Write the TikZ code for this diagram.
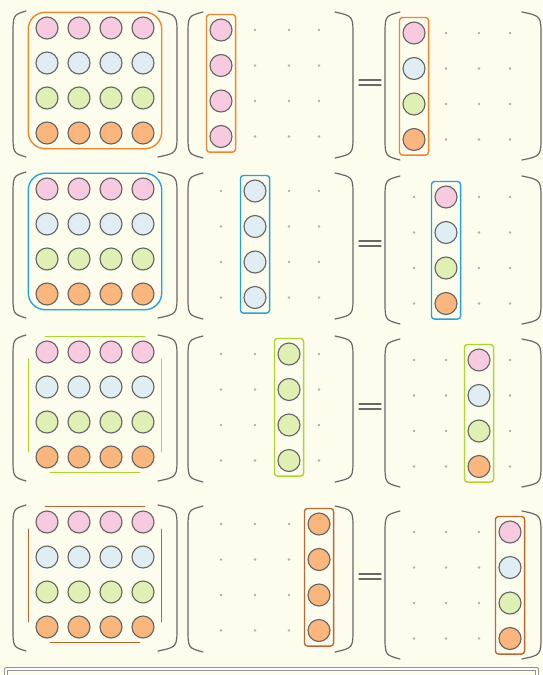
\documentclass[tikz,border=0pt]{standalone}
\usetikzlibrary{fit}
\definecolor{paper}{RGB}{253,253,238}
\definecolor{rim}{RGB}{100,100,100}
\definecolor{pinkfill}{RGB}{248,202,224}
\definecolor{bluefill}{RGB}{224,238,244}
\definecolor{greenfill}{RGB}{224,240,180}
\definecolor{orangefill}{RGB}{250,182,124}
\definecolor{frameorange}{RGB}{244,130,46}
\definecolor{frameblue}{RGB}{34,162,226}
\definecolor{framegreen}{RGB}{172,216,44}
\definecolor{framebrown}{RGB}{192,102,50}
\definecolor{dotgray}{RGB}{184,168,182}
\definecolor{parengray}{RGB}{104,104,104}
% left / right bracket: outer x, tip x, top y, bottom y
\newcommand{\lbr}[4]{\draw[paren] (#2,#3) .. controls (#1,#3+4) .. (#1,#3+24) -- (#1,#4-24) .. controls (#1,#4-4) .. (#2,#4);}
\newcommand{\rbr}[4]{\draw[paren] (#2,#3) .. controls (#1,#3+4) .. (#1,#3+24) -- (#1,#4-24) .. controls (#1,#4-4) .. (#2,#4);}
\begin{document}
\begin{tikzpicture}[x=1pt, y=-1pt, line join=round, line cap=round,
  ball/.style={circle, draw=rim, line width=1.1pt, minimum size=22pt, inner sep=0pt},
  pt/.style={circle, fill=dotgray, minimum size=2.8pt, inner sep=0pt},
  paren/.style={draw=parengray, line width=1.2pt},
  frame/.style={line width=1.4pt},
  colbox/.style={frame, rounded corners=3pt, inner xsep=3pt, inner ysep=4pt}]
  \fill[paper] (0,0) rectangle (543,675);
  \useasboundingbox (0,0) rectangle (543,675);
  % one row: first ball of A, B, C; frame colour; colour of column r
  \foreach \r/\ya/\yb/\yc/\fc/\rc in {1/28/30/33/frameorange/pinkfill, 2/189/191/197/frameblue/bluefill,
      3/352/354/360/framegreen/greenfill, 4/522/524/532/framebrown/orangefill}{
    % full matrix
    \foreach \i/\bc in {1/pinkfill,2/bluefill,3/greenfill,4/orangefill}
      \foreach \j/\x in {1/47,2/79,3/111,4/143}
        \node[ball, fill=\bc] (a\r-\i-\j) at (\x,{\ya+35*(\i-1)}) {};
    \node[fit=(a\r-1-1)(a\r-4-4), inner xsep=7pt, inner ysep=4pt] (fa\r) {};
    \ifnum\r<3
      \draw[frame, draw=\fc, rounded corners=17pt] (fa\r.north west) rectangle (fa\r.south east);
    \else
      \draw[frame, draw=\fc] ([xshift=17pt]fa\r.north west) -- ([xshift=-17pt]fa\r.north east);
      \draw[frame, draw=\fc] ([xshift=22pt]fa\r.south west) -- ([xshift=-22pt]fa\r.south east);
      \draw[frame, draw=\fc] ([yshift=-23pt]fa\r.north west) -- ([yshift=21pt]fa\r.south west);
      \draw[frame, draw=\fc] ([yshift=-23pt]fa\r.north east) -- ([yshift=21pt]fa\r.south east);
    \fi
    % one column, and the product
    \foreach \i/\bc in {1/pinkfill,2/bluefill,3/greenfill,4/orangefill}
      \foreach \j/\x/\xx in {1/221/414,2/255/446,3/289/479,4/319/510}{
        \ifnum\j=\r
          \node[ball, fill=\rc] (b\r-\i-\j) at (\x,{\yb+35.5*(\i-1)}) {};
          \node[ball, fill=\bc] (c\r-\i-\j) at (\xx,{\yc+35.5*(\i-1)}) {};
        \else
          \node[pt] (b\r-\i-\j) at (\x,{\yb+35.5*(\i-1)}) {};
          \node[pt] (c\r-\i-\j) at (\xx,{\yc+35.5*(\i-1)}) {};
        \fi
      }
    \node[colbox, draw=\fc, fit=(b\r-1-\r)(b\r-4-\r)] (fb\r) {};
    \node[colbox, draw=\fc, fit=(c\r-1-\r)(c\r-4-\r)] (fc\r) {};
    % brackets and equals sign
    \lbr{13}{26}{\ya-17}{\ya+129}
    \rbr{177}{158}{\ya-17}{\ya+129}
    \lbr{188}{203}{\yb-18}{\yb+128}
    \rbr{353}{335}{\yb-18}{\yb+128}
    \lbr{385}{400}{\yc-21}{\yc+127}
    \rbr{541}{522}{\yc-21}{\yc+127}
    \draw[parengray, line width=1.2pt] (359,\yb+50) -- (381,\yb+50) (359,\yb+55) -- (381,\yb+55);
  }
  \draw[rim!70, line width=0.9pt, double=white, double distance=1.6pt] (6,669) rectangle (537,690);
\end{tikzpicture}
\end{document}
